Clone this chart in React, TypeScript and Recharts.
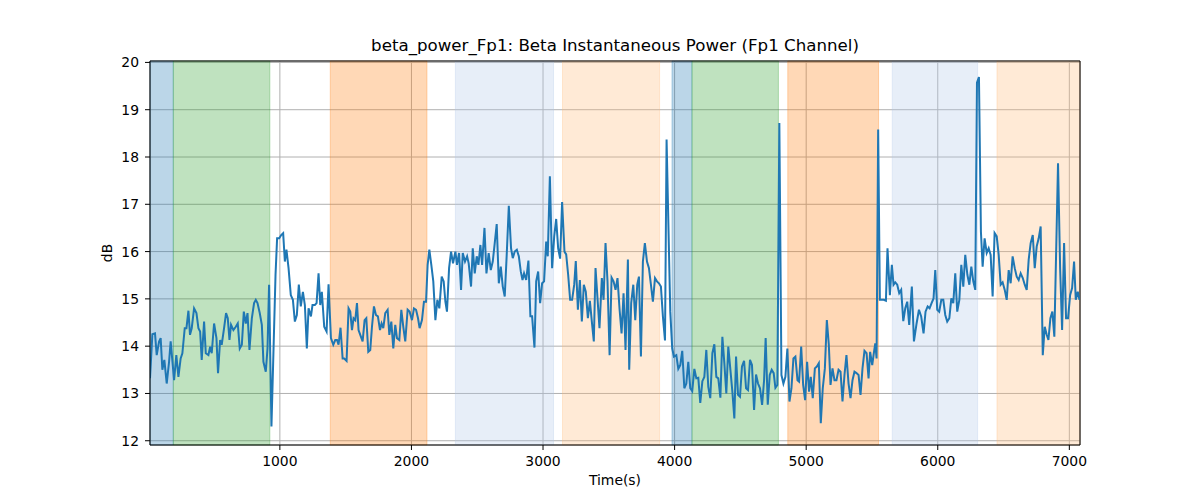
import {
  LineChart,
  Line,
  XAxis,
  YAxis,
  CartesianGrid,
  ReferenceArea,
  ReferenceLine,
} from "recharts";

// sample times (s) and beta power (dB)
const times = [
  13, 31, 51, 64, 82, 94, 107, 122, 140, 158, 170, 196, 213, 229, 246, 259, 277, 290, 305, 317,
  330, 348, 366, 381, 394, 406, 424, 437, 457, 470, 482, 500, 518, 530, 546, 558, 576, 591, 604, 617,
  629, 647, 665, 680, 695, 711, 726, 741, 754, 769, 787, 804, 817, 830, 847, 863, 875, 893, 906, 918,
  936, 967, 979, 995, 1010, 1025, 1038, 1050, 1066, 1083, 1099, 1114, 1129, 1144, 1159, 1175, 1190, 1205, 1218,
  1236, 1248, 1266, 1279, 1294, 1307, 1319, 1337, 1355, 1370, 1388, 1406, 1421, 1434, 1446, 1461, 1477, 1489, 1507,
  1522, 1535, 1548, 1560, 1573, 1586, 1598, 1611, 1629, 1644, 1657, 1672, 1687, 1700, 1715, 1730, 1745, 1761, 1773,
  1786, 1801, 1819, 1832, 1847, 1862, 1877, 1890, 1908, 1923, 1938, 1953, 1971, 1986, 2004, 2019, 2035, 2050, 2062,
  2080, 2095, 2111, 2123, 2136, 2151, 2166, 2182, 2197, 2212, 2230, 2245, 2258, 2270, 2286, 2301, 2316, 2334, 2346,
  2362, 2377, 2390, 2407, 2423,
  2435, 2453, 2466, 2481, 2496, 2509, 2524, 2537, 2555, 2570, 2587, 2603, 2618, 2633, 2648, 2664, 2679, 2694, 2709,
  2724, 2740, 2757, 2770, 2785, 2801, 2816, 2831, 2844, 2856, 2872, 2889, 2904, 2917, 2935, 2948, 2963, 2978, 2993,
  3008, 3024, 3036, 3052, 3069, 3085, 3100, 3115, 3130, 3145, 3163, 3176, 3191, 3206, 3221, 3237, 3249, 3265, 3280,
  3295, 3310, 3325, 3341, 3356, 3371, 3386, 3399, 3414, 3429, 3447, 3460, 3475, 3490, 3506, 3521, 3536, 3551, 3566,
  3582, 3597, 3612, 3627, 3645,
  3655, 3670, 3686, 3701, 3716, 3729, 3744, 3759, 3774, 3790, 3805, 3820, 3835, 3851, 3866, 3881, 3896, 3911, 3927,
  3939, 3967, 3982, 3995, 4013, 4028, 4043, 4058, 4074, 4089, 4104, 4119, 4134, 4150, 4165, 4180, 4195, 4211, 4226,
  4241, 4256, 4271, 4287, 4302, 4317, 4332, 4348, 4363, 4378, 4393, 4408, 4424, 4439, 4454, 4467, 4482, 4497, 4512,
  4528, 4543, 4558, 4573, 4588, 4604, 4619, 4634, 4649, 4665, 4680, 4692, 4708, 4723, 4738, 4753, 4766, 4781, 4796,
  4812, 4827, 4842, 4857,
  4873, 4888, 4903, 4918, 4934, 4946, 4962, 4977, 4992, 5007, 5022, 5035, 5050, 5066, 5081, 5096, 5111, 5126, 5142,
  5157, 5172, 5185, 5200, 5215, 5230, 5246, 5261, 5276, 5291, 5306, 5322, 5337, 5352, 5367, 5382, 5398, 5413, 5428,
  5443, 5459, 5474, 5486, 5502, 5512, 5525, 5535, 5547, 5560, 5575, 5590, 5606, 5618, 5636, 5651, 5664, 5677, 5692,
  5707, 5722, 5738, 5753, 5768, 5783, 5803, 5819, 5839, 5857, 5874, 5892, 5907, 5923, 5938, 5953, 5968, 5981, 5996,
  6011, 6027, 6042, 6057, 6072,
  6088, 6103, 6118, 6133, 6148, 6164, 6179, 6194, 6209, 6225, 6240, 6255, 6270, 6285, 6298, 6313, 6328, 6341, 6356,
  6372, 6387, 6402, 6417, 6432, 6448, 6463, 6478, 6493, 6509, 6524, 6539, 6554, 6569, 6585, 6600, 6615, 6630, 6646,
  6661, 6676, 6691, 6706, 6722, 6737, 6752, 6767, 6782, 6798, 6813, 6828, 6841, 6856, 6871, 6886, 6914, 6930, 6945,
  6960, 6975, 6990, 7006, 7021, 7036, 7049, 7064, 7077,
];

const power = [
  13.32, 14.25, 14.27, 13.81, 14.1, 14.17, 13.5, 13.71, 13.21, 13.67, 14.1, 13.28, 13.81, 13.35, 13.74, 13.85, 14.38, 14.38, 14.75, 14.24,
  14.38, 14.8, 14.7, 14.38, 14.31, 13.71, 14.52, 13.85, 13.81, 13.99, 13.85, 14.48, 14.17, 13.43, 14.13, 14.03, 14.38, 14.7, 14.59, 14.13,
  14.45, 14.34, 14.41, 14.48, 13.95, 14.03, 14.73, 14.48, 14.7, 13.92, 14.59, 14.91, 14.98, 14.91, 14.7, 14.45, 13.67, 13.46, 13.95, 15.3,
  12.3, 15.51, 16.28, 16.28, 16.35, 16.39, 15.79, 16.04, 15.65, 15.08, 14.98, 14.52, 14.66, 15.3, 14.84, 15.15, 14.87, 13.95, 14.8,
  14.63, 14.87, 14.87, 14.91, 15.54, 14.87, 15.15, 14.41, 14.31, 15.31, 14.17, 14.03, 14.13, 14.13, 14.03, 14.39, 13.74, 13.74, 13.69,
  14.8, 14.73, 14.34, 14.59, 14.55, 14.91, 14.34, 14.24, 14.1, 14.55, 14.59, 13.88, 13.92, 14.41, 14.84, 14.66, 14.63, 14.34, 14.48,
  14.38, 14.7, 14.77, 14.24, 14.52, 13.95, 14.45, 14.17, 14.13, 14.77, 14.41, 14.1, 14.77, 14.73, 14.55, 14.8, 14.77, 14.59, 14.38,
  14.55, 14.94, 14.94, 15.72, 16.04, 15.72, 15.37, 14.55, 14.98, 14.8, 15.47, 15.37, 14.94, 14.73, 15.65, 16.0, 15.75, 16.0, 15.72,
  15.97, 15.19, 15.97, 15.79, 15.9,
  15.75, 15.26, 16.07, 15.54, 15.9, 15.72, 16.14, 15.72, 16.5, 15.54, 15.97, 15.61, 15.79, 16.18, 16.58, 15.33, 15.68, 15.26, 15.05,
  15.93, 16.97, 16.07, 15.86, 16.0, 16.04, 15.9, 15.58, 15.4, 15.54, 15.4, 15.81, 14.63, 14.63, 13.97, 15.37, 15.58, 14.91, 15.33,
  15.37, 16.21, 15.9, 17.59, 15.65, 16.32, 16.69, 16.07, 15.85, 17.05, 16.0, 15.94, 15.51, 14.98, 14.98, 15.3, 15.8, 14.77, 15.4,
  14.52, 15.3, 15.15, 14.59, 14.96, 14.52, 14.1, 15.65, 15.01, 14.38, 15.44, 14.98, 16.18, 15.37, 13.81, 15.45, 15.37, 15.19, 15.44,
  14.77, 14.27, 15.12, 13.92, 15.83,
  13.5, 14.91, 15.3, 14.55, 15.3, 15.47, 13.78, 15.79, 16.18, 15.79, 15.65, 15.3, 14.94, 15.44, 15.37, 15.33, 15.26, 14.63, 14.12,
  18.37, 14.73, 13.95, 13.78, 13.81, 13.52, 13.6, 13.9, 13.11, 13.21, 13.67, 13.11, 13.05, 13.52, 13.32, 13.33, 12.8, 13.26, 13.35,
  13.92, 13.14, 12.9, 13.85, 14.04, 13.35, 13.32, 12.91, 14.2, 13.64, 13.0, 13.99, 13.5, 13.04, 12.47, 13.78, 12.97, 12.93, 13.57,
  13.69, 13.11, 13.07, 13.71, 13.6, 12.65, 13.4, 13.21, 13.11, 12.76, 13.28, 14.17, 12.76, 13.39, 13.5, 13.43, 13.12, 13.18, 18.72,
  13.39, 13.21, 13.35, 13.95,
  12.83, 13.11, 13.74, 13.78, 13.28, 13.25, 13.99, 13.18, 12.86, 13.67, 13.04, 13.35, 12.9, 13.53, 13.57, 13.64, 12.37, 13.11, 13.53,
  14.55, 14.03, 13.18, 13.53, 13.28, 13.28, 13.5, 13.46, 12.83, 13.39, 13.81, 13.21, 12.9, 13.28, 13.46, 13.43, 13.39, 12.97, 13.53,
  13.9, 13.85, 13.32, 13.88, 13.6, 13.81, 14.06, 13.74, 18.58, 14.98, 14.98, 14.98, 14.96, 16.07, 15.08, 15.72, 15.3, 15.35, 15.3,
  15.12, 15.19, 14.53, 14.8, 14.94, 14.45, 15.26, 14.1, 14.48, 14.77, 14.63, 14.27, 14.73, 14.84, 14.8, 14.91, 15.01, 15.61, 14.77,
  14.73, 14.98, 14.98, 14.66, 14.52,
  14.59, 15.01, 14.91, 15.54, 14.73, 14.98, 15.72, 15.26, 15.93, 15.51, 15.3, 15.68, 15.37, 15.19, 19.57, 19.69, 16.42, 15.68, 16.28,
  15.97, 16.07, 15.93, 15.05, 16.39, 16.32, 15.93, 15.3, 15.35, 15.19, 14.98, 15.61, 15.33, 15.9, 15.65, 15.47, 15.4, 15.54, 15.44,
  15.3, 15.19, 15.83, 16.18, 16.35, 15.65, 16.11, 16.28, 16.53, 13.81, 14.41, 14.24, 14.13, 14.59, 14.73, 14.2, 17.87, 15.65, 14.34,
  16.18, 14.59, 14.59, 15.08, 15.23, 15.79, 14.98, 15.15, 14.98,
];

// shaded epochs (start, end in seconds) and their kind
const epochStart = [13, 190, 1383, 2334, 3148, 3980, 4132, 4860, 5654, 6450];
const epochEnd = [190, 924, 2118, 3080, 3886, 4132, 4789, 5550, 6303, 7081];
const epochKind = ["A", "B", "C", "D", "E", "A", "B", "C", "D", "E"];

const xTicks = [1000, 2000, 3000, 4000, 5000, 6000, 7000];
const yTicks = [12, 13, 14, 15, 16, 17, 18, 19, 20];

const X_DOMAIN: [number, number] = [13, 7081];
const Y_DOMAIN: [number, number] = [11.91, 20.03];

const KIND_COLORS: Record<string, string> = {
  A: "#1f77b4",
  B: "#2ca02c",
  C: "#ff7f0e",
  D: "#aec7e8",
  E: "#ffbb78",
};

const FONT = "'DejaVu Sans', sans-serif";
const tickStyle = { fontSize: 13.9, fill: "#000", fontFamily: FONT };

const rows = times.map((t, i) => ({ t, v: power[i] }));

export default function App() {
  return (
    <div
      style={{
        position: "absolute",
        left: 0,
        top: 0,
        width: 1200,
        height: 500,
        background: "#fff",
        fontFamily: FONT,
      }}
    >
      <div
        style={{
          position: "absolute",
          left: 150,
          width: 930,
          top: 38,
          textAlign: "center",
          fontSize: 16.67,
          lineHeight: 1,
          whiteSpace: "nowrap",
        }}
      >
        beta_power_Fp1: Beta Instantaneous Power (Fp1 Channel)
      </div>
      <LineChart
        width={1200}
        height={500}
        data={rows}
        margin={{ top: 61, right: 120, bottom: 10, left: 90 }}
      >
        {epochStart.map((s, i) => (
          <ReferenceArea
            key={i}
            x1={s}
            x2={epochEnd[i]}
            fill={KIND_COLORS[epochKind[i]]}
            fillOpacity={0.3}
            stroke={KIND_COLORS[epochKind[i]]}
            strokeOpacity={0.3}
          />
        ))}
        <CartesianGrid stroke="#b0b0b0" strokeWidth={1} />
        <XAxis
          type="number"
          dataKey="t"
          domain={X_DOMAIN}
          ticks={xTicks}
          allowDataOverflow
          height={45}
          tick={tickStyle}
          tickSize={5}
          tickMargin={6}
          stroke="#000"
        />
        <YAxis
          type="number"
          domain={Y_DOMAIN}
          ticks={yTicks}
          allowDataOverflow
          width={60}
          tick={tickStyle}
          tickSize={5}
          tickMargin={6}
          stroke="#000"
        />
        <ReferenceLine y={Y_DOMAIN[1]} stroke="#000" />
        <ReferenceLine x={X_DOMAIN[1]} stroke="#000" />
        <Line
          type="linear"
          dataKey="v"
          stroke="#1f77b4"
          strokeWidth={2}
          dot={false}
          isAnimationActive={false}
        />
      </LineChart>
      <div
        style={{
          position: "absolute",
          left: 150,
          width: 930,
          top: 474,
          textAlign: "center",
          fontSize: 13.9,
          lineHeight: 1,
        }}
      >
        Time(s)
      </div>
      <div
        style={{
          position: "absolute",
          left: 108,
          top: 253,
          fontSize: 13.9,
          lineHeight: 1,
          transform: "translate(-50%, -50%) rotate(-90deg)",
        }}
      >
        dB
      </div>
    </div>
  );
}
